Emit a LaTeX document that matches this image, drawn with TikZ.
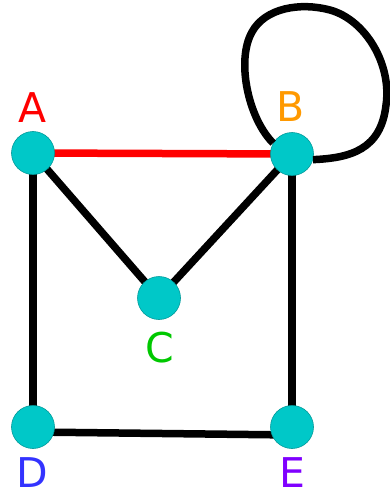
\documentclass[tikz,border=0pt]{standalone}
\usepackage{fontspec}
\setmainfont{DejaVu Sans}
\usepackage{xcolor}
\definecolor{vertexfill}{HTML}{00C8C8}
\definecolor{vertexline}{HTML}{009A9A}
\definecolor{labA}{HTML}{FF0000}
\definecolor{labB}{HTML}{FF9900}
\definecolor{labC}{HTML}{00C800}
\definecolor{labD}{HTML}{3333FF}
\definecolor{labE}{HTML}{7F00FF}

\begin{document}
\begin{tikzpicture}[x=1pt,y=-1pt]
  \tikzset{graphvertex/.style={circle,fill=vertexfill,draw=vertexline,line width=0.6pt,inner sep=0pt,minimum size=43pt}}
  \tikzset{graphedge/.style={draw=black,line width=7.5pt}}
  \tikzset{vertexlabel/.style={font=\fontsize{41}{41}\selectfont,inner sep=0pt}}
  \useasboundingbox (0,0) rectangle (389,495);
  \coordinate (pA) at (33,153);
  \coordinate (pB) at (292,154);
  \coordinate (pC) at (159,298);
  \coordinate (pD) at (33,427);
  \coordinate (pE) at (292,427);
  \draw[graphedge,draw=red] (pA) -- (pB);
  \draw[graphedge] (pA) -- (pC);
  \draw[graphedge] (pB) -- (pC);
  \draw[graphedge] (pA) -- (pD);
  \draw[graphedge] (pB) -- (pE);
  \draw[graphedge] ([yshift=-5pt]pD) -- ([yshift=-8pt]pE);
  \node[graphvertex] (A) at (pA) {};
  \node[graphvertex] (B) at (pB) {};
  \node[graphvertex] (C) at (pC) {};
  \node[graphvertex] (D) at (pD) {};
  \node[graphvertex] (E) at (pE) {};
  \draw[graphedge] (B.150) .. controls (248,118) and (236,60) .. (252,32)
    .. controls (265,8) and (300,2) .. (330,10)
    .. controls (366,20) and (392,65) .. (386,105)
    .. controls (381,150) and (350,158) .. (B.-15);
  \node[vertexlabel,text=labA] (lA) at (33,108) {A};
  \node[vertexlabel,text=labB] (lB) at (291,107) {B};
  \node[vertexlabel,text=labC] (lC) at (160,348) {C};
  \node[vertexlabel,text=labD] (lD) at (32,473) {D};
  \node[vertexlabel,text=labE] (lE) at (292,473) {E};
\end{tikzpicture}
\end{document}
